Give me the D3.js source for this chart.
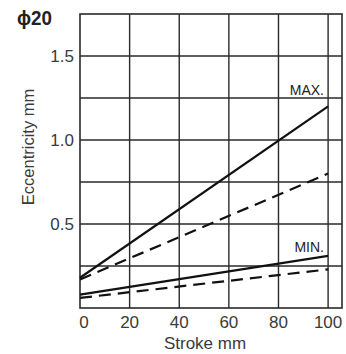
<!DOCTYPE html>
<html><head><meta charset="utf-8">
<script src="https://cdn.jsdelivr.net/npm/d3@7"></script>
<style>body{margin:0;background:#fff;}svg{display:block;font-family:"Liberation Sans",Arial,sans-serif;}</style>
</head><body>
<svg id="c" width="346" height="354"></svg>
<script>
const strokeX = [0, 100];
const maxSolid = [0.18, 1.2];
const maxDashed = [0.17, 0.8];
const minSolid = [0.08, 0.31];
const minDashed = [0.06, 0.23];
const xTicks = [0, 20, 40, 60, 80, 100];
const yTicks = [0.5, 1.0, 1.5];
const yGrid = [0.25, 0.5, 0.75, 1.0, 1.25, 1.5];
const xGrid = [20, 40, 60, 80, 100];

const svg = d3.select("#c");
const x = d3.scaleLinear().domain([0, 105.6]).range([80, 342]);
const y = d3.scaleLinear().domain([0, 1.75]).range([308, 14]);
const ink = "#2a2a2a";

const g = svg.append("g");
g.selectAll(".vg").data(xGrid).join("line")
  .attr("x1", d => x(d)).attr("x2", d => x(d)).attr("y1", y(0)).attr("y2", y(1.75))
  .attr("stroke", ink).attr("stroke-width", 1.4);
g.selectAll(".hg").data(yGrid).join("line")
  .attr("x1", x(0)).attr("x2", x(105.6)).attr("y1", d => y(d)).attr("y2", d => y(d))
  .attr("stroke", ink).attr("stroke-width", 1.4);
g.append("rect").attr("x", x(0)).attr("y", y(1.75)).attr("width", x(105.6) - x(0)).attr("height", y(0) - y(1.75))
  .attr("fill", "none").attr("stroke", ink).attr("stroke-width", 1.6);

const line = d3.line().x((d, i) => x(strokeX[i])).y(d => y(d));
[[maxSolid, null], [maxDashed, "12,7"], [minSolid, null], [minDashed, "12,7"]].forEach(([s, dash]) => {
  g.append("path").attr("d", line(s)).attr("fill", "none").attr("stroke", "#111").attr("stroke-width", 2.2)
    .attr("stroke-dasharray", dash);
});

const txt = "#3a3a3a";
svg.selectAll(".xt").data(xTicks).join("text")
  .attr("x", d => x(d) + (d === 0 ? 4 : 0)).attr("y", 328).attr("text-anchor", "middle")
  .attr("font-size", 17).attr("fill", txt).text(d => d);
svg.selectAll(".yt").data(yTicks).join("text")
  .attr("x", 74).attr("y", d => y(d) + 6).attr("text-anchor", "end")
  .attr("font-size", 17).attr("fill", txt).text(d => d.toFixed(1));

svg.append("text").attr("x", 205).attr("y", 349).attr("text-anchor", "middle")
  .attr("font-size", 17).attr("fill", txt).text("Stroke mm");
svg.append("text").attr("transform", "translate(34,147) rotate(-90)").attr("text-anchor", "middle")
  .attr("font-size", 16.5).attr("fill", txt).text("Eccentricity mm");
svg.append("text").attr("x", 17).attr("y", 25).attr("font-size", 20).attr("font-weight", "bold")
  .attr("fill", "#222").attr("textLength", 35).attr("lengthAdjust", "spacingAndGlyphs").text("ϕ20");
svg.append("text").attr("x", 324).attr("y", 95).attr("text-anchor", "end")
  .attr("font-size", 14).attr("fill", "#222").text("MAX.");
svg.append("text").attr("x", 324).attr("y", 252).attr("text-anchor", "end")
  .attr("font-size", 14).attr("fill", "#222").text("MIN.");
</script>
</body></html>
